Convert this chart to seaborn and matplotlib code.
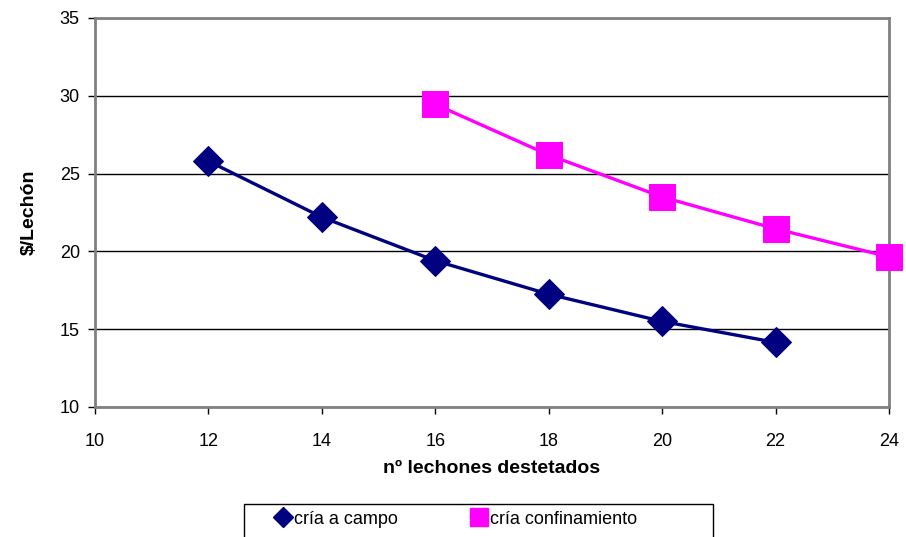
import matplotlib
matplotlib.use("Agg")
import matplotlib.pyplot as plt
import seaborn as sns
import pandas as pd
from matplotlib.lines import Line2D
from matplotlib.patches import Rectangle

# data
campo_x = [12, 14, 16, 18, 20, 22]
campo_y = [25.8, 22.2, 19.4, 17.25, 15.5, 14.15]
conf_x = [16, 18, 20, 22, 24]
conf_y = [29.45, 26.2, 23.5, 21.45, 19.65]
series_names = ["cría a campo", "cría confinamiento"]
x_ticks = [10, 12, 14, 16, 18, 20, 22, 24]
y_ticks = [10, 15, 20, 25, 30, 35]

sns.set_theme(style="white")
plt.rcParams['font.family'] = ['Liberation Sans', 'DejaVu Sans']
plt.rcParams['text.color'] = 'black'
plt.rcParams['axes.labelcolor'] = 'black'
plt.rcParams['xtick.color'] = 'black'
plt.rcParams['ytick.color'] = 'black'

NAVY = "#000080"
MAGENTA = "#FF00FF"

fig = plt.figure(figsize=(9.06, 5.37), dpi=100)
ax = fig.add_axes([0.1049, 0.2421, 0.8763, 0.7244])

df1 = pd.DataFrame({"x": campo_x, "y": campo_y})
df2 = pd.DataFrame({"x": conf_x, "y": conf_y})

sns.lineplot(data=df1, x="x", y="y", ax=ax, color=NAVY, lw=2.4,
             marker="D", markersize=15, markeredgecolor=NAVY,
             markerfacecolor=NAVY, clip_on=False, zorder=3)
sns.lineplot(data=df2, x="x", y="y", ax=ax, color=MAGENTA, lw=2.4,
             marker="s", markersize=19, markeredgecolor=MAGENTA,
             markerfacecolor=MAGENTA, clip_on=False, zorder=3)

ax.set_xlim(10, 24)
ax.set_ylim(10, 35)
ax.set_xticks(x_ticks)
ax.set_yticks(y_ticks)
ax.set_xticklabels([str(v) for v in x_ticks], fontsize=13)
ax.set_yticklabels([str(v) for v in y_ticks], fontsize=13)
ax.yaxis.grid(True, color="black", lw=1)
ax.xaxis.grid(False)
ax.set_axisbelow(True)

for s in ax.spines.values():
    s.set_color("#808080")
    s.set_linewidth(2)
    s.set_visible(True)

ax.tick_params(axis="x", direction="out", length=5, width=1, color="black", pad=14)
ax.tick_params(axis="y", direction="out", length=5, width=1, color="black", pad=6)
ax.tick_params(bottom=True, left=True)

ax.set_xlabel("nº lechones destetados", fontsize=14, fontweight="bold", labelpad=7)
ax.set_ylabel("$/Lechón", fontsize=14, fontweight="bold", labelpad=16)

handles = [
    Line2D([], [], color=NAVY, marker="D", markersize=10, lw=0),
    Line2D([], [], color=MAGENTA, marker="s", markersize=13, lw=0),
]
leg = fig.legend(handles, series_names, loc="center",
                 bbox_to_anchor=(0.504, 0.0335),
                 ncol=2, frameon=False, fontsize=13,
                 handlelength=0.8, handletextpad=0.2, borderaxespad=0,
                 columnspacing=4.1)

fig.patches.append(Rectangle((244 / 906, -0.02), (713 - 244) / 906, (537 - 504) / 537 + 0.02,
                             transform=fig.transFigure, fill=False,
                             edgecolor="black", lw=1))

fig.savefig("out.png", dpi=100)
